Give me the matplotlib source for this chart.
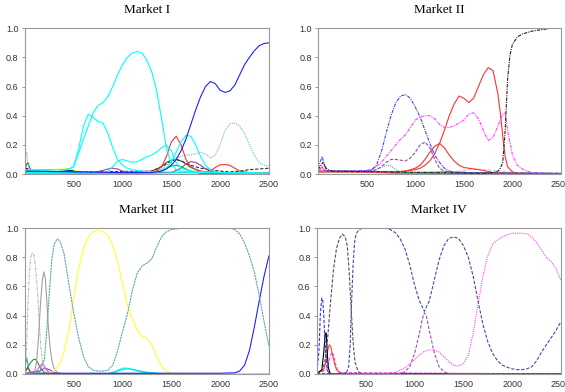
import matplotlib
matplotlib.use('Agg')
import matplotlib.pyplot as plt

matplotlib.rcParams.update({'font.size': 6.5, 'font.family': 'Liberation Sans'})

# ---------------- Market I ----------------
m1_cyan_a_x = [0, 100, 200, 300, 400, 450, 500, 550, 600, 650, 700, 750, 800, 850, 900, 950, 1000, 1050, 1100,
               1150, 1200, 1250, 1300, 1350, 1400, 1450, 1500, 1550, 1600, 1700, 1800, 2000, 2500]
m1_cyan_a_y = [0.03, 0.025, 0.025, 0.03, 0.03, 0.035, 0.05, 0.14, 0.24, 0.33, 0.42, 0.47, 0.49, 0.53, 0.60, 0.68,
               0.75, 0.80, 0.83, 0.84, 0.83, 0.78, 0.70, 0.57, 0.38, 0.18, 0.07, 0.03, 0.02, 0.015, 0.01, 0.01, 0.005]
m1_cyan_b_x = [0, 200, 400, 450, 500, 550, 600, 650, 700, 750, 800, 850, 900, 950, 1000, 1050, 1100, 1150, 1200, 1300, 2500]
m1_cyan_b_y = [0.03, 0.03, 0.03, 0.035, 0.05, 0.17, 0.33, 0.41, 0.39, 0.36, 0.35, 0.28, 0.18, 0.10, 0.06, 0.04, 0.03,
               0.025, 0.02, 0.015, 0.005]
m1_cyan_c_x = [0, 800, 850, 900, 950, 1000, 1050, 1100, 1150, 1200, 1250, 1300, 1350, 1400, 1450, 1500, 1550, 1600, 1700, 2000, 2500]
m1_cyan_c_y = [0.01, 0.01, 0.02, 0.05, 0.09, 0.10, 0.09, 0.08, 0.085, 0.10, 0.12, 0.13, 0.15, 0.18, 0.20, 0.16, 0.08,
               0.04, 0.02, 0.01, 0.005]
m1_cyan_d_x = [0, 1300, 1400, 1450, 1500, 1550, 1600, 1650, 1700, 1750, 1800, 1850, 1900, 1950, 2000, 2500]
m1_cyan_d_y = [0.005, 0.01, 0.02, 0.04, 0.08, 0.15, 0.22, 0.265, 0.26, 0.20, 0.12, 0.06, 0.03, 0.015, 0.01, 0.005]
m1_blue_x = [0, 500, 1000, 1300, 1400, 1450, 1500, 1550, 1600, 1650, 1700, 1750, 1800, 1850, 1900, 1950, 2000, 2050,
             2100, 2150, 2200, 2250, 2300, 2350, 2400, 2450, 2500]
m1_blue_y = [0.02, 0.015, 0.01, 0.01, 0.02, 0.035, 0.06, 0.10, 0.16, 0.24, 0.34, 0.44, 0.53, 0.60, 0.635, 0.62, 0.575,
             0.56, 0.57, 0.61, 0.68, 0.75, 0.80, 0.845, 0.88, 0.895, 0.90]
m1_red_x = [0, 1000, 1350, 1400, 1450, 1500, 1550, 1600, 1650, 1700, 1750, 1800, 1850, 1900, 1950, 2000, 2050, 2100,
            2150, 2200, 2300, 2500]
m1_red_y = [0.02, 0.01, 0.02, 0.05, 0.12, 0.22, 0.26, 0.20, 0.10, 0.05, 0.03, 0.02, 0.015, 0.02, 0.045, 0.063, 0.065,
            0.06, 0.04, 0.02, 0.01, 0.005]
m1_teal_x = [0, 1300, 1400, 1450, 1500, 1550, 1600, 1650, 1700, 1750, 1800, 1850, 1900, 1950, 2000, 2050, 2100, 2150,
             2200, 2250, 2300, 2350, 2400, 2450, 2500]
m1_teal_y = [0.005, 0.01, 0.03, 0.06, 0.09, 0.11, 0.12, 0.13, 0.13, 0.14, 0.15, 0.14, 0.11, 0.13, 0.20, 0.30, 0.345,
             0.35, 0.33, 0.28, 0.20, 0.13, 0.08, 0.06, 0.055]
m1_dgreen_x = [0, 1200, 1300, 1400, 1450, 1500, 1550, 1600, 1650, 1700, 1800, 1900, 2500]
m1_dgreen_y = [0.01, 0.01, 0.02, 0.05, 0.08, 0.095, 0.10, 0.09, 0.07, 0.045, 0.02, 0.01, 0.005]
m1_black_x = [0, 1300, 1400, 1500, 1550, 1600, 1700, 1800, 1900, 2000, 2100, 2200, 2300, 2400, 2500]
m1_black_y = [0.01, 0.02, 0.05, 0.09, 0.10, 0.09, 0.06, 0.04, 0.03, 0.02, 0.015, 0.02, 0.03, 0.035, 0.04]
m1_purple_x = [0, 700, 800, 850, 900, 950, 1000, 1100, 1500, 1600, 1650, 1700, 1750, 1800, 1850, 1900, 2000, 2500]
m1_purple_y = [0.01, 0.01, 0.025, 0.035, 0.04, 0.035, 0.02, 0.01, 0.01, 0.04, 0.07, 0.085, 0.08, 0.06, 0.035, 0.02, 0.01, 0.01]
m1_green_x = [0, 1350, 1450, 1500, 1550, 1600, 1700, 1800, 2500]
m1_green_y = [0.005, 0.01, 0.04, 0.055, 0.06, 0.05, 0.02, 0.005, 0.003]
m1_yellow_x = [0, 100, 200, 300, 400, 450, 500, 550, 600, 700, 2500]
m1_yellow_y = [0.02, 0.025, 0.025, 0.03, 0.035, 0.035, 0.03, 0.015, 0.01, 0.005, 0.003]
m1_gray_x = [0, 10, 20, 30, 40, 60, 100, 300]
m1_gray_y = [0.05, 0.12, 0.15, 0.08, 0.04, 0.02, 0.01, 0.005]
m1_spike_x = [0, 15, 30, 45, 60, 100, 300, 500, 600, 2500]
m1_spike_y = [0.03, 0.06, 0.08, 0.05, 0.03, 0.02, 0.015, 0.02, 0.01, 0.005]
m1_navy_x = [0, 20, 50, 100, 200, 300, 400, 480, 550, 700, 2500]
m1_navy_y = [0.02, 0.04, 0.025, 0.02, 0.018, 0.015, 0.02, 0.025, 0.01, 0.005, 0.003]

# ---------------- Market II ----------------
m2_blue_x = [0, 20, 40, 60, 80, 100, 200, 400, 500, 550, 600, 650, 700, 750, 800, 850, 900, 950, 1000, 1050, 1100,
             1150, 1200, 1250, 1300, 1350, 1400, 1500, 2500]
m2_blue_y = [0.04, 0.08, 0.12, 0.08, 0.03, 0.02, 0.02, 0.02, 0.025, 0.03, 0.06, 0.15, 0.28, 0.40, 0.49, 0.535, 0.545,
             0.52, 0.46, 0.39, 0.30, 0.21, 0.13, 0.08, 0.04, 0.02, 0.012, 0.008, 0.005]
m2_mag_x = [0, 500, 550, 600, 650, 700, 750, 800, 850, 900, 950, 1000, 1050, 1100, 1150, 1200, 1250, 1300, 1350, 1400,
            1450, 1500, 1550, 1600, 1650, 1700, 1750, 1800, 1850, 1900, 1925, 1950, 2000, 2050, 2100, 2150, 2200, 2300, 2500]
m2_mag_y = [0.02, 0.02, 0.03, 0.05, 0.08, 0.12, 0.16, 0.20, 0.24, 0.27, 0.32, 0.37, 0.39, 0.40, 0.40, 0.38, 0.34, 0.32,
            0.32, 0.33, 0.35, 0.37, 0.41, 0.42, 0.38, 0.30, 0.23, 0.25, 0.33, 0.41, 0.42, 0.30, 0.13, 0.06, 0.035, 0.02,
            0.01, 0.005, 0.002]
m2_red1_x = [0, 800, 900, 1000, 1050, 1100, 1150, 1200, 1250, 1300, 1350, 1400, 1450, 1500, 1550, 1600, 1650, 1700,
             1750, 1800, 1850, 1875, 1900, 1925, 1950, 2000, 2050, 2500]
m2_red1_y = [0.02, 0.015, 0.02, 0.03, 0.04, 0.06, 0.09, 0.14, 0.21, 0.30, 0.40, 0.48, 0.535, 0.52, 0.49, 0.52, 0.60,
             0.68, 0.73, 0.71, 0.55, 0.42, 0.26, 0.12, 0.05, 0.015, 0.005, 0.002]
m2_red2_x = [0, 800, 900, 1000, 1050, 1100, 1150, 1200, 1250, 1300, 1350, 1400, 1450, 1500, 1600, 1700, 1800, 2000, 2500]
m2_red2_y = [0.015, 0.015, 0.02, 0.04, 0.06, 0.10, 0.15, 0.19, 0.21, 0.18, 0.13, 0.09, 0.06, 0.045, 0.035, 0.025,
             0.01, 0.003, 0.002]
m2_purple_x = [0, 500, 600, 650, 700, 750, 800, 850, 900, 950, 1000, 1050, 1100, 1150, 1200, 1250, 1300, 1400, 2500]
m2_purple_y = [0.02, 0.02, 0.03, 0.05, 0.08, 0.10, 0.10, 0.095, 0.09, 0.11, 0.15, 0.20, 0.22, 0.18, 0.10, 0.04, 0.02,
               0.01, 0.005]
m2_teal_x = [0, 550, 600, 650, 700, 750, 800, 850, 900, 2500]
m2_teal_y = [0.02, 0.02, 0.03, 0.045, 0.06, 0.055, 0.03, 0.015, 0.01, 0.005]
m2_black_x = [0, 30, 50, 70, 100, 150, 1700, 1800, 1850, 1875, 1900, 1925, 1950, 1975, 2000, 2050, 2100, 2200, 2300,
              2400, 2500]
m2_black_y = [0.03, 0.06, 0.08, 0.05, 0.03, 0.02, 0.005, 0.01, 0.02, 0.04, 0.08, 0.30, 0.65, 0.82, 0.89, 0.94, 0.96,
              0.98, 0.99, 1.0, 1.0]
m2_lgray_x = [0, 1400, 1500, 1600, 1700, 1800, 1900, 2000, 2100, 2500]
m2_lgray_y = [0.01, 0.015, 0.025, 0.035, 0.03, 0.025, 0.02, 0.01, 0.005, 0.003]
m2_green_x = [0, 500, 1000, 1200, 1300, 1400, 1500, 1600, 2500]
m2_green_y = [0.015, 0.012, 0.01, 0.012, 0.015, 0.015, 0.012, 0.008, 0.003]
m2_pink_x = [0, 20, 40, 60, 100, 300, 600, 800, 2500]
m2_pink_y = [0.02, 0.03, 0.05, 0.03, 0.02, 0.015, 0.01, 0.005, 0.002]

# ---------------- Market III ----------------
m3_lgray_x = [0, 15, 30, 45, 60, 75, 90, 105, 120, 135, 150, 165, 180, 200, 230, 300, 2500]
m3_lgray_y = [0.02, 0.15, 0.45, 0.68, 0.80, 0.83, 0.82, 0.76, 0.65, 0.50, 0.32, 0.18, 0.09, 0.03, 0.01, 0.0, 0.0]
m3_gray_x = [0, 100, 120, 140, 160, 180, 195, 210, 225, 240, 260, 280, 300, 330, 400, 2500]
m3_gray_y = [0.0, 0.02, 0.08, 0.25, 0.48, 0.65, 0.70, 0.65, 0.50, 0.33, 0.17, 0.08, 0.04, 0.01, 0.0, 0.0]
m3_teal_x = [0, 150, 200, 225, 250, 275, 300, 330, 360, 400, 450, 500, 550, 600, 650, 700, 750, 800, 850, 900, 950,
             1000, 1050, 1100, 1150, 1200, 1250, 1300, 1350, 1400, 1450, 1500, 1550, 1600, 2100, 2150, 2200, 2250,
             2300, 2350, 2400, 2450, 2500]
m3_teal_y = [0.0, 0.01, 0.10, 0.30, 0.55, 0.78, 0.89, 0.925, 0.91, 0.83, 0.62, 0.42, 0.25, 0.12, 0.05, 0.025, 0.02,
             0.02, 0.025, 0.06, 0.16, 0.29, 0.41, 0.57, 0.69, 0.74, 0.76, 0.79, 0.87, 0.94, 0.975, 0.99, 0.995, 1.0,
             1.0, 0.99, 0.96, 0.90, 0.81, 0.70, 0.54, 0.36, 0.19]
m3_yellow_x = [0, 250, 300, 350, 400, 450, 500, 550, 600, 650, 700, 750, 800, 850, 900, 950, 1000, 1050, 1100, 1150,
               1200, 1250, 1300, 1350, 1400, 1450, 1500, 2500]
m3_yellow_y = [0.0, 0.005, 0.02, 0.06, 0.15, 0.30, 0.52, 0.72, 0.86, 0.94, 0.975, 0.985, 0.975, 0.95, 0.88, 0.77, 0.62,
               0.47, 0.38, 0.30, 0.26, 0.245, 0.20, 0.12, 0.055, 0.02, 0.005, 0.0]
m3_blue_x = [0, 2000, 2150, 2200, 2250, 2300, 2350, 2400, 2450, 2500]
m3_blue_y = [0.005, 0.005, 0.008, 0.02, 0.06, 0.16, 0.32, 0.50, 0.67, 0.81]
m3_cyan_x = [0, 850, 900, 950, 1000, 1050, 1100, 1150, 1200, 1250, 1300, 1400, 2500]
m3_cyan_y = [0.0, 0.003, 0.01, 0.025, 0.04, 0.04, 0.03, 0.02, 0.012, 0.008, 0.005, 0.0, 0.0]
m3_cyan2_y = [0.0, 0.002, 0.008, 0.02, 0.03, 0.035, 0.032, 0.025, 0.018, 0.012, 0.008, 0.002, 0.0]
m3_green_x = [0, 30, 60, 90, 110, 130, 160, 200, 250, 2500]
m3_green_y = [0.01, 0.05, 0.08, 0.10, 0.10, 0.08, 0.04, 0.01, 0.0, 0.0]
m3_mag_x = [0, 120, 150, 175, 190, 210, 240, 280, 2500]
m3_mag_y = [0.0, 0.02, 0.05, 0.07, 0.065, 0.04, 0.015, 0.0, 0.0]
m3_tspike_x = [0, 10, 20, 30, 45, 60, 2500]
m3_tspike_y = [0.02, 0.08, 0.11, 0.07, 0.02, 0.0, 0.0]
m3_purple_x = [0, 150, 200, 250, 300, 350, 2500]
m3_purple_y = [0.0, 0.02, 0.04, 0.03, 0.01, 0.0, 0.003]
m3_red_x = [0, 15, 30, 45, 60, 80, 2500]
m3_red_y = [0.01, 0.03, 0.04, 0.03, 0.01, 0.0, 0.0]

# ---------------- Market IV ----------------
m4_navy_x = [0, 300, 325, 340, 355, 370, 385, 400, 430, 470, 500, 600, 700, 750, 800, 850, 900, 950, 1000, 1050, 1100,
             1150, 1200, 1250, 1300, 1350, 1400, 1450, 1500, 1550, 1600, 1650, 1700, 1750, 1800, 1850, 1900, 1950,
             2000, 2050, 2100, 2150, 2200, 2250, 2300, 2350, 2400, 2450, 2500]
m4_navy_y = [0.0, 0.005, 0.05, 0.20, 0.50, 0.75, 0.90, 0.96, 0.99, 1.0, 1.0, 1.0, 1.0, 0.99, 0.97, 0.93, 0.86, 0.75,
             0.61, 0.50, 0.43, 0.50, 0.64, 0.78, 0.88, 0.93, 0.94, 0.93, 0.88, 0.80, 0.67, 0.50, 0.34, 0.22, 0.14, 0.09,
             0.06, 0.045, 0.035, 0.03, 0.03, 0.035, 0.05, 0.09, 0.15, 0.20, 0.25, 0.30, 0.36]
m4_purple_x = [0, 850, 900, 950, 1000, 1050, 1080, 1100, 1120, 1150, 1200, 1250, 1300, 1350, 2500]
m4_purple_y = [0.0, 0.003, 0.015, 0.05, 0.14, 0.28, 0.38, 0.42, 0.40, 0.30, 0.15, 0.05, 0.015, 0.003, 0.0]
m4_mag_x = [0, 700, 800, 900, 950, 1000, 1050, 1100, 1150, 1200, 1250, 1300, 1350, 1400, 1450, 1500, 1550, 1600, 1650,
            1700, 1750, 1800, 1850, 1900, 1950, 2000, 2050, 2100, 2150, 2200, 2250, 2300, 2350, 2400, 2450, 2500]
m4_mag_y = [0.0, 0.003, 0.01, 0.04, 0.07, 0.10, 0.13, 0.155, 0.165, 0.165, 0.15, 0.12, 0.085, 0.06, 0.055, 0.07, 0.13,
            0.28, 0.48, 0.67, 0.81, 0.89, 0.92, 0.94, 0.955, 0.965, 0.965, 0.965, 0.96, 0.94, 0.90, 0.85, 0.80, 0.77,
            0.72, 0.64]
m4_dgray_x = [0, 50, 80, 110, 140, 170, 200, 230, 260, 290, 310, 330, 350, 370, 390, 420, 450, 2500]
m4_dgray_y = [0.0, 0.02, 0.08, 0.25, 0.50, 0.72, 0.86, 0.93, 0.96, 0.94, 0.88, 0.70, 0.45, 0.22, 0.08, 0.02, 0.0, 0.0]
m4_blue_x = [0, 20, 35, 50, 60, 70, 80, 95, 110, 130, 2500]
m4_blue_y = [0.02, 0.15, 0.42, 0.52, 0.50, 0.40, 0.25, 0.08, 0.02, 0.0, 0.0]
m4_black_x = [0, 50, 70, 85, 95, 105, 115, 130, 150, 2500]
m4_black_y = [0.0, 0.03, 0.15, 0.28, 0.28, 0.15, 0.05, 0.01, 0.0, 0.0]
m4_red_x = [0, 70, 90, 110, 125, 140, 160, 180, 200, 230, 260, 2500]
m4_red_y = [0.01, 0.03, 0.08, 0.16, 0.20, 0.19, 0.13, 0.07, 0.03, 0.01, 0.0, 0.0]
m4_pink_x = [0, 100, 130, 150, 170, 190, 210, 240, 2500]
m4_pink_y = [0.0, 0.03, 0.10, 0.15, 0.13, 0.07, 0.03, 0.01, 0.0]

titles = ['Market I', 'Market II', 'Market III', 'Market IV']
yticks = [0.0, 0.2, 0.4, 0.6, 0.8, 1.0]
xticks = [500, 1000, 1500, 2000, 2500]

fig = plt.figure(figsize=(5.65, 3.92), dpi=100)
ax1 = fig.add_axes([0.044, 0.556, 0.432, 0.372])
ax2 = fig.add_axes([0.563, 0.556, 0.430, 0.372])
ax3 = fig.add_axes([0.044, 0.046, 0.432, 0.372])
ax4 = fig.add_axes([0.561, 0.046, 0.432, 0.372])

lw = 0.8
dot = (0, (1, 1))
dash = (0, (3, 1.5))
dashdot = (0, (3, 1, 1, 1))

# Market I
ax1.plot(m1_navy_x, m1_navy_y, color='#000080', lw=lw)
ax1.plot(m1_spike_x, m1_spike_y, color='#008060', lw=lw)
ax1.plot(m1_gray_x, m1_gray_y, color='#b0b0b0', lw=lw, ls=dot)
ax1.plot(m1_yellow_x, m1_yellow_y, color='#ffff00', lw=lw)
ax1.plot(m1_green_x, m1_green_y, color='#00c000', lw=lw)
ax1.plot(m1_dgreen_x, m1_dgreen_y, color='#406040', lw=lw)
ax1.plot(m1_black_x, m1_black_y, color='#303030', lw=lw, ls=dash)
ax1.plot(m1_purple_x, m1_purple_y, color='#a040a0', lw=lw)
ax1.plot(m1_teal_x, m1_teal_y, color='#70b8b8', lw=lw, ls=dot)
ax1.plot(m1_red_x, m1_red_y, color='#ff3030', lw=lw)
ax1.plot(m1_cyan_c_x, m1_cyan_c_y, color='#00ffff', lw=lw)
ax1.plot(m1_cyan_d_x, m1_cyan_d_y, color='#00ffff', lw=lw)
ax1.plot(m1_cyan_b_x, m1_cyan_b_y, color='#00ffff', lw=lw)
ax1.plot(m1_cyan_a_x, m1_cyan_a_y, color='#00ffff', lw=lw)
ax1.plot(m1_blue_x, m1_blue_y, color='#2020ff', lw=lw)

# Market II
ax2.plot(m2_green_x, m2_green_y, color='#00a000', lw=lw)
ax2.plot(m2_pink_x, m2_pink_y, color='#ff40a0', lw=lw)
ax2.plot(m2_lgray_x, m2_lgray_y, color='#c8c8c8', lw=lw, ls=dash)
ax2.plot(m2_teal_x, m2_teal_y, color='#40b0b0', lw=lw, ls=dot)
ax2.plot(m2_purple_x, m2_purple_y, color='#9050a0', lw=lw, ls=dash)
ax2.plot(m2_red2_x, m2_red2_y, color='#ff3030', lw=lw)
ax2.plot(m2_red1_x, m2_red1_y, color='#ff3030', lw=lw)
ax2.plot(m2_mag_x, m2_mag_y, color='#ff40ff', lw=lw, ls=dashdot)
ax2.plot(m2_blue_x, m2_blue_y, color='#4040ff', lw=lw, ls=dashdot)
ax2.plot(m2_black_x, m2_black_y, color='#202020', lw=lw, ls=dashdot)

# Market III
ax3.plot(m3_red_x, m3_red_y, color='#c00000', lw=lw)
ax3.plot(m3_tspike_x, m3_tspike_y, color='#40a0a0', lw=lw)
ax3.plot(m3_purple_x, m3_purple_y, color='#8040c0', lw=lw)
ax3.plot(m3_green_x, m3_green_y, color='#20a020', lw=lw)
ax3.plot(m3_mag_x, m3_mag_y, color='#ff40ff', lw=lw)
ax3.plot(m3_cyan_x, m3_cyan_y, color='#00ffff', lw=lw)
ax3.plot(m3_cyan_x, m3_cyan2_y, color='#00e0e0', lw=lw)
ax3.plot(m3_lgray_x, m3_lgray_y, color='#b8b8b8', lw=lw, ls=dashdot)
ax3.plot(m3_gray_x, m3_gray_y, color='#a0a0a0', lw=lw)
ax3.plot(m3_yellow_x, m3_yellow_y, color='#ffff30', lw=lw)
ax3.plot(m3_blue_x, m3_blue_y, color='#2020ff', lw=lw)
ax3.plot(m3_teal_x, m3_teal_y, color='#5aa8a8', lw=lw, ls=(0, (2, 0.6)))

# Market IV
ax4.plot(m4_pink_x, m4_pink_y, color='#ff40ff', lw=lw, ls=dash)
ax4.plot(m4_red_x, m4_red_y, color='#ff4040', lw=lw)
ax4.plot(m4_black_x, m4_black_y, color='#000000', lw=lw)
ax4.plot(m4_blue_x, m4_blue_y, color='#3030ff', lw=lw, ls=dash)
ax4.plot(m4_dgray_x, m4_dgray_y, color='#505050', lw=lw, ls=dash)
ax4.plot(m4_purple_x, m4_purple_y, color='#a050a8', lw=lw, ls=dash)
ax4.plot(m4_mag_x, m4_mag_y, color='#ff40ff', lw=lw, ls=dot)
ax4.plot(m4_navy_x, m4_navy_y, color='#4848a0', lw=lw, ls=dash)

for ax, title in zip([ax1, ax2, ax3, ax4], titles):
    ax.set_xlim(0, 2500)
    ax.set_ylim(0, 1.0)
    ax.set_xticks(xticks)
    ax.set_xticklabels([str(t) for t in xticks])
    ax.set_yticks(yticks)
    ax.set_yticklabels(['%.1f' % t for t in yticks])
    ax.tick_params(axis='x', length=0, pad=4, colors='#333333', labelsize=6.5)
    ax.tick_params(axis='y', length=2.5, width=0.6, pad=2, color='#888888', labelcolor='#333333', labelsize=6.5)
    for sp in ax.spines.values():
        sp.set_color('#999999')
        sp.set_linewidth(0.8)
    ax.set_title(title, fontsize=9.5, family='Liberation Serif', pad=11)

fig.savefig('out.png', dpi=100)
